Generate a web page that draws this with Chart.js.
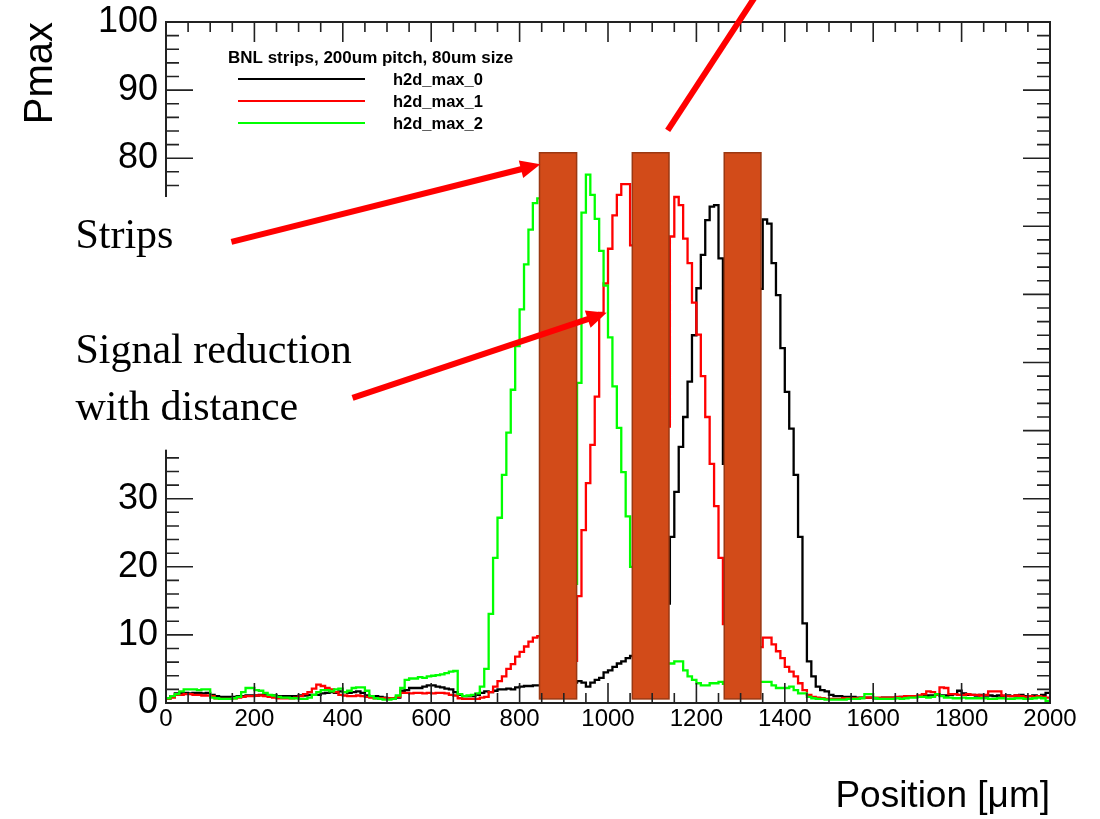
<!DOCTYPE html>
<html>
<head>
<meta charset="utf-8">
<script src="https://cdn.jsdelivr.net/npm/chart.js@4.4.0/dist/chart.umd.min.js"></script>
<style>
  body { margin: 0; background: #fff; }
  #wrap { width: 1100px; height: 819px; }
</style>
</head>
<body>
<div id="wrap"><canvas id="myChart" width="1100" height="819"></canvas></div>
<script>
// histogram binning: 200 bins of 10 um from 0 to 2000 um
const binStart = 0;
const binWidth = 10;

// h2d_max_0 (black), one value per bin
const h2dMax0 = [
  0.7,1.0,1.4,1.5,1.5,1.4,1.5,1.5,1.4,1.5,
  1.2,1.0,0.9,0.9,0.9,0.9,1.0,1.0,1.1,1.1,
  1.1,1.2,1.1,1.1,1.1,1.0,1.0,1.0,1.0,1.0,
  1.1,1.1,1.2,1.2,1.2,1.4,1.5,1.6,1.5,1.7,
  1.6,1.5,1.6,1.7,1.5,1.1,1.0,1.0,0.9,0.8,
  0.7,0.7,0.8,1.8,1.9,2.2,2.2,2.2,2.4,2.6,
  2.6,2.4,2.3,2.1,2.0,1.6,1.2,1.0,1.0,1.0,
  1.2,1.5,1.7,1.6,1.8,2.0,2.0,2.1,2.0,2.3,
  2.4,2.5,2.5,2.6,2.6,2.6,2.5,2.6,2.7,2.7,
  2.8,2.9,3.0,3.2,3.0,2.4,3.0,3.4,3.7,4.5,
  4.8,5.3,5.8,6.1,6.6,6.9,7.6,8.4,9.3,10.2,
  11.2,12.3,13.4,14.6,24.4,31.0,37.6,42.0,47.2,54.0,
  60.9,65.8,70.9,72.9,73.1,65.3,35.1,31.0,28.5,27.5,
  29.0,33.0,41.0,51.0,60.8,71.0,70.4,64.6,59.9,52.1,
  45.7,40.3,33.5,24.4,11.7,6.1,3.9,2.4,1.9,1.7,
  1.2,1.0,1.0,0.9,0.9,0.9,0.8,0.8,0.8,0.8,
  0.7,0.7,0.8,0.8,0.8,0.8,0.9,0.9,0.9,1.0,
  1.0,1.0,1.1,1.1,1.2,1.1,1.1,1.2,1.3,1.8,
  1.4,1.2,1.2,1.1,1.2,1.1,1.1,1.0,1.1,1.0,
  1.1,1.0,1.1,1.2,1.0,1.0,1.1,1.0,1.2,1.5
];

// h2d_max_1 (red)
const h2dMax1 = [
  0.6,0.8,1.2,1.2,1.3,1.3,1.2,1.2,1.1,1.1,
  1.0,0.7,0.6,0.6,0.6,0.7,0.8,0.9,1.0,1.0,
  1.1,1.1,1.0,0.9,0.8,0.7,0.7,0.7,0.7,0.8,
  1.0,1.3,1.6,2.1,2.7,2.5,2.2,2.0,1.6,1.2,
  1.1,1.0,1.0,1.1,1.0,0.9,0.8,0.7,0.7,0.7,
  0.7,0.7,0.9,1.5,1.5,1.4,1.5,1.5,1.4,1.5,
  1.4,1.5,1.5,1.4,1.2,1.1,0.7,0.6,0.6,0.6,
  0.6,0.8,0.9,1.6,2.4,3.2,3.9,5.0,5.7,6.8,
  7.5,8.3,9.0,9.6,9.8,9.5,8.8,8.0,7.4,6.9,
  6.5,6.3,6.2,15.7,25.4,32.3,37.9,45.0,57.3,61.6,
  66.7,71.6,74.6,76.2,76.2,67.2,55.0,45.0,38.0,35.0,
  34.0,36.0,38.0,40.6,68.5,74.3,73.1,68.2,64.6,58.8,
  54.1,48.0,42.0,35.1,28.9,21.3,11.6,9.0,7.5,7.0,
  7.0,7.2,7.6,8.0,8.2,9.6,9.6,8.6,7.6,6.6,
  5.3,4.6,3.9,2.9,1.9,1.2,0.9,0.8,0.7,0.6,
  0.6,0.6,0.6,0.7,0.7,0.7,0.7,0.8,0.8,0.8,
  0.8,0.8,0.8,0.8,0.8,0.9,0.9,1.0,1.0,1.0,
  1.1,1.3,1.7,1.6,1.2,2.3,2.2,1.3,1.3,1.2,
  1.2,1.3,1.2,1.2,1.1,1.2,1.7,1.7,1.7,1.1,
  1.0,1.0,1.1,1.0,0.9,1.0,0.9,1.0,0.9,0.8
];

// h2d_max_2 (green)
const h2dMax2 = [
  0.7,1.0,1.3,1.7,2.0,2.0,2.0,1.9,2.0,2.0,
  0.8,0.7,0.6,0.6,0.6,0.7,0.9,1.6,2.2,2.2,
  1.9,1.8,1.5,1.2,1.1,0.9,0.8,0.8,0.7,0.7,
  0.6,0.6,0.8,1.2,1.6,1.9,1.9,1.7,2.0,2.1,
  1.6,1.8,2.2,2.3,2.3,1.8,1.0,0.7,0.6,0.5,
  0.5,0.6,1.1,2.2,3.4,3.6,3.6,3.8,3.7,3.9,
  4.0,4.1,4.2,4.4,4.6,4.7,1.3,1.0,1.1,1.2,
  1.4,2.4,5.0,13.1,21.3,27.2,33.5,39.7,46.0,52.4,
  57.8,64.4,69.5,73.4,74.1,70.0,60.0,45.0,32.0,22.0,
  16.0,14.0,17.5,47.0,72.0,77.6,74.6,71.1,66.4,61.3,
  53.7,46.5,40.4,33.9,27.4,20.0,14.0,10.5,8.5,7.2,
  6.6,6.2,5.9,5.8,5.8,6.1,6.1,4.8,3.9,3.4,
  2.9,2.6,2.6,2.9,2.9,3.1,2.8,2.7,2.6,2.7,
  2.8,2.9,3.0,3.0,3.1,3.1,3.1,2.6,2.2,2.2,
  2.2,2.4,1.9,1.4,1.4,0.9,0.7,0.6,0.6,0.5,
  0.5,0.5,0.5,0.5,0.6,0.6,0.6,0.7,1.3,1.3,
  0.7,0.6,0.6,0.6,0.6,0.7,0.6,0.7,0.8,0.8,
  0.9,0.9,0.8,0.9,1.3,1.0,0.8,0.8,0.7,0.7,
  0.8,0.7,0.7,0.7,0.7,0.7,0.6,0.6,0.7,0.7,
  0.6,0.6,0.7,0.7,0.6,0.6,0.7,0.8,0.7,0.3
];

const seriesNames = ['h2d_max_0', 'h2d_max_1', 'h2d_max_2'];
const seriesColors = ['#000000', '#ff0000', '#00ff00'];
const legendHeader = 'BNL strips, 200um pitch, 80um size';

// strip positions (um) and height (Pmax) of the drawn strips
const stripLeft = [845, 1055, 1263];
const stripRight = [929, 1138, 1346];
const stripBottom = 0.6;
const stripTop = 80.8;

// callout text and arrows, in axis units
const notes = [
  { text: 'Strips', x: -205, y: 66.8 },
  { text: 'Signal reduction', x: -205, y: 49.9 },
  { text: 'with distance', x: -205, y: 41.6 }
];
const arrows = [
  { x0: 148, y0: 67.7, x1: 847, y1: 79.1, head: true },
  { x0: 422, y0: 44.8, x1: 997, y1: 57.3, head: true },
  { x0: 1135, y0: 84.1, x1: 1358, y1: 106.2, head: false }
];
// white patch hiding part of the y axis behind the callouts
const patch = { x0: -400, x1: 440, y0: 37.2, y1: 74.3 };

// turn a bin list into step points (left edges + closing point at the end)
function toSteps(values) {
  const pts = values.map((v, i) => ({ x: binStart + i * binWidth, y: v }));
  pts.push({ x: binStart + values.length * binWidth, y: values[values.length - 1] });
  return pts;
}

// ROOT style frame with ticks inside on all four sides
const framePlugin = {
  id: 'frame',
  afterDatasetsDraw(chart) {
    const { ctx, chartArea: a, scales: { x, y } } = chart;
    ctx.save();

    // strips
    for (let i = 0; i < stripLeft.length; i++) {
      const l = x.getPixelForValue(stripLeft[i]);
      const r = x.getPixelForValue(stripRight[i]);
      const t = y.getPixelForValue(stripTop);
      const b = y.getPixelForValue(stripBottom);
      ctx.fillStyle = '#d24b19';
      ctx.fillRect(l, t, r - l, b - t);
      ctx.strokeStyle = '#9a3812';
      ctx.lineWidth = 1.5;
      ctx.strokeRect(l, t, r - l, b - t);
    }

    ctx.strokeStyle = '#222';
    ctx.lineWidth = 2;
    ctx.strokeRect(a.left, a.top, a.right - a.left, a.bottom - a.top);

    ctx.lineWidth = 1.6;
    ctx.beginPath();
    for (let v = 0; v <= 2000; v += 50) {
      const px = x.getPixelForValue(v);
      const len = v % 200 === 0 ? 20 : 10;
      ctx.moveTo(px, a.bottom); ctx.lineTo(px, a.bottom - len);
      ctx.moveTo(px, a.top); ctx.lineTo(px, a.top + len);
    }
    for (let v = 0; v <= 100; v += 2) {
      const py = y.getPixelForValue(v);
      const len = v % 10 === 0 ? 27 : 13;
      ctx.moveTo(a.left, py); ctx.lineTo(a.left + len, py);
      ctx.moveTo(a.right, py); ctx.lineTo(a.right - len, py);
    }
    ctx.stroke();
    ctx.restore();
  },
  afterDraw(chart) {
    const { ctx, chartArea: a, scales: { x, y } } = chart;
    ctx.save();

    // white patch over the axis
    const pl = Math.max(0, x.getPixelForValue(patch.x0));
    ctx.fillStyle = '#fff';
    ctx.fillRect(pl, y.getPixelForValue(patch.y1), x.getPixelForValue(patch.x1) - pl,
      y.getPixelForValue(patch.y0) - y.getPixelForValue(patch.y1));

    // callout text
    ctx.fillStyle = '#000';
    ctx.font = '42px "Liberation Serif", serif';
    ctx.textAlign = 'left';
    ctx.textBaseline = 'alphabetic';
    notes.forEach(n => ctx.fillText(n.text, x.getPixelForValue(n.x), y.getPixelForValue(n.y)));

    // arrows
    ctx.strokeStyle = '#ff0000';
    ctx.fillStyle = '#ff0000';
    ctx.lineWidth = 6;
    arrows.forEach(ar => {
      const x0 = x.getPixelForValue(ar.x0), y0 = y.getPixelForValue(ar.y0);
      const x1 = x.getPixelForValue(ar.x1), y1 = y.getPixelForValue(ar.y1);
      const ang = Math.atan2(y1 - y0, x1 - x0);
      const headLen = ar.head ? 20 : 0;
      ctx.beginPath();
      ctx.moveTo(x0, y0);
      ctx.lineTo(x1 - headLen * 0.8 * Math.cos(ang), y1 - headLen * 0.8 * Math.sin(ang));
      ctx.stroke();
      if (ar.head) {
        ctx.beginPath();
        ctx.moveTo(x1, y1);
        ctx.lineTo(x1 - headLen * Math.cos(ang) + 9 * Math.sin(ang), y1 - headLen * Math.sin(ang) - 9 * Math.cos(ang));
        ctx.lineTo(x1 - headLen * Math.cos(ang) - 9 * Math.sin(ang), y1 - headLen * Math.sin(ang) + 9 * Math.cos(ang));
        ctx.closePath();
        ctx.fill();
      }
    });

    // legend
    const lx = a.left + 62;
    ctx.fillStyle = '#000';
    ctx.font = 'bold 17px "Liberation Sans", Arial, sans-serif';
    ctx.textBaseline = 'alphabetic';
    ctx.fillText(legendHeader, lx, a.top + 41);
    ctx.font = 'bold 16.5px "Liberation Sans", Arial, sans-serif';
    ctx.textBaseline = 'middle';
    chart.data.datasets.forEach((ds, i) => {
      const ly = a.top + 57 + i * 22;
      ctx.strokeStyle = ds.borderColor;
      ctx.lineWidth = 2;
      ctx.beginPath();
      ctx.moveTo(lx + 10, ly);
      ctx.lineTo(lx + 137, ly);
      ctx.stroke();
      ctx.fillText(ds.label, lx + 165, ly + 1);
    });
    ctx.restore();
  }
};

const sets = [h2dMax0, h2dMax1, h2dMax2];

const chartData = {
  datasets: sets.map((vals, i) => ({
    label: seriesNames[i],
    data: toSteps(vals),
    borderColor: seriesColors[i],
    borderWidth: 2.3,
    pointRadius: 0,
    stepped: true,
    fill: false,
    order: 3 - i
  }))
};

const config = {
  type: 'line',
  data: chartData,
  options: {
    responsive: false,
    animation: false,
    layout: { padding: { top: 22, right: 50, left: 0, bottom: 0 } },
    plugins: { legend: { display: false }, tooltip: { enabled: false } },
    scales: {
      x: {
        type: 'linear', min: 0, max: 2000,
        grid: { display: false, drawTicks: false }, border: { display: false },
        ticks: {
          stepSize: 200, autoSkip: false, maxRotation: 0, padding: 2, color: '#000',
          font: { family: '"Liberation Sans", Arial, sans-serif', size: 24 },
          callback: v => String(v)
        },
        title: {
          display: true, text: 'Position [μm]', align: 'end', color: '#000',
          font: { family: '"Liberation Sans", Arial, sans-serif', size: 37 },
          padding: { top: 4, bottom: 0 }
        },
        afterFit(scale) { scale.height = 116; scale.paddingLeft = 0; scale.paddingRight = 0; }
      },
      y: {
        type: 'linear', min: 0, max: 100,
        grid: { display: false, drawTicks: false }, border: { display: false },
        ticks: {
          stepSize: 10, padding: 8, color: '#000',
          font: { family: '"Liberation Sans", Arial, sans-serif', size: 36 }
        },
        title: {
          display: true, text: 'Pmax', align: 'end', color: '#000',
          font: { family: '"Liberation Sans", Arial, sans-serif', size: 40 },
          padding: { top: 17, bottom: 0 }
        },
        afterFit(scale) { scale.width = 166; scale.paddingTop = 0; scale.paddingBottom = 0; }
      }
    }
  },
  plugins: [framePlugin]
};

const myChart = new Chart(document.getElementById('myChart'), config);
</script>
</body>
</html>
